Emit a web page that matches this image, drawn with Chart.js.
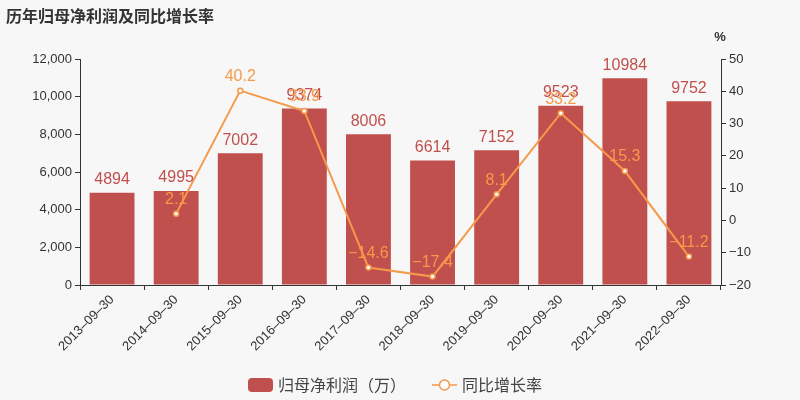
<!DOCTYPE html>
<html>
<head>
<meta charset="utf-8">
<style>
body { margin: 0; background: #f7f7f7; }
#wrap { width: 800px; height: 400px; }
</style>
<script src="https://cdn.jsdelivr.net/npm/chart.js@4/dist/chart.umd.min.js"></script>
</head>
<body>
<div id="wrap"><canvas id="chart" width="800" height="400"></canvas></div>
<script>
// data
var dates = ['2013-09-30', '2014-09-30', '2015-09-30', '2016-09-30', '2017-09-30',
             '2018-09-30', '2019-09-30', '2020-09-30', '2021-09-30', '2022-09-30'];
var profit = [4894, 4995, 7002, 9374, 8006, 6614, 7152, 9523, 10984, 9752];
var growth = [null, 2.1, 40.2, 33.9, -14.6, -17.4, 8.1, 33.2, 15.3, -11.2];
var leftTicks = [0, 2000, 4000, 6000, 8000, 10000, 12000];
var rightTicks = [-20, -10, 0, 10, 20, 30, 40, 50];

var barColor = '#c0504d';
var lineColor = '#f5994a';
var txt = '#333';
var cjk = '"Noto Sans CJK SC", sans-serif';

function minus(s) { return String(s).replace(/-/g, '\u2212'); }

// value labels + title + legend
var extras = {
  id: 'extras',
  afterDatasetsDraw: function(chart) {
    var ctx = chart.ctx;
    ctx.save();
    ctx.font = '16px "Liberation Sans", Arial, sans-serif';
    ctx.textAlign = 'center';
    ctx.textBaseline = 'bottom';
    chart.getDatasetMeta(0).data.forEach(function(bar, i) {
      ctx.fillStyle = barColor;
      ctx.fillText(profit[i], bar.x, bar.y - 5);
    });
    chart.getDatasetMeta(1).data.forEach(function(pt, i) {
      if (growth[i] === null) return;
      ctx.fillStyle = lineColor;
      ctx.fillText(minus(growth[i]), pt.x, pt.y - 6);
    });
    ctx.restore();
  },
  afterDraw: function(chart) {
    var ctx = chart.ctx;
    ctx.save();
    ctx.fillStyle = txt;
    ctx.font = 'bold 16px ' + cjk;
    ctx.textBaseline = 'middle';
    ctx.textAlign = 'left';
    ctx.fillText('历年归母净利润及同比增长率', 6, 16);

    ctx.font = 'bold 13px "Liberation Sans", Arial, sans-serif';
    ctx.textAlign = 'center';
    ctx.fillText('%', 720, 37);

    // legend
    ctx.font = '16px ' + cjk;
    ctx.textAlign = 'left';
    var y = 385;
    ctx.fillStyle = barColor;
    ctx.beginPath();
    ctx.roundRect(248, y - 7, 25, 14, 4);
    ctx.fill();
    ctx.fillStyle = '#444';
    ctx.fillText('归母净利润（万）', 278, y);
    ctx.strokeStyle = lineColor;
    ctx.lineWidth = 1.5;
    ctx.beginPath();
    ctx.moveTo(432, y); ctx.lineTo(457, y);
    ctx.stroke();
    ctx.beginPath();
    ctx.arc(444.5, y, 5, 0, Math.PI * 2);
    ctx.fillStyle = '#fff';
    ctx.fill();
    ctx.stroke();
    ctx.fillStyle = '#444';
    ctx.fillText('同比增长率', 462, y);
    ctx.restore();
  }
};

var ctx = document.getElementById('chart');
new Chart(ctx, {
  type: 'bar',
  data: {
    labels: dates,
    datasets: [
      {
        type: 'bar',
        label: '归母净利润（万）',
        data: profit,
        backgroundColor: barColor,
        yAxisID: 'y',
        categoryPercentage: 0.7,
        barPercentage: 1,
        order: 2
      },
      {
        type: 'line',
        label: '同比增长率',
        data: growth,
        borderColor: lineColor,
        borderWidth: 2,
        pointRadius: 2.5,
        pointBackgroundColor: '#fff',
        pointBorderColor: lineColor,
        pointBorderWidth: 1.5,
        yAxisID: 'y1',
        spanGaps: false,
        order: 1
      }
    ]
  },
  options: {
    responsive: false,
    animation: false,
    layout: { padding: { top: 59, left: 0, right: 0, bottom: 0 } },
    plugins: { legend: { display: false }, tooltip: { enabled: false } },
    scales: {
      x: {
        grid: { display: true, drawOnChartArea: false, drawTicks: true, tickLength: 5, color: txt },
        border: { display: true, color: txt },
        ticks: {
          color: txt, font: { size: 13, family: '"Liberation Sans", Arial, sans-serif' },
          minRotation: 45, maxRotation: 45, padding: 2,
          callback: function(v, i) { return dates[i].replace(/-/g, '\u2013'); }
        },
        afterFit: function(s) { s.height = 115; }
      },
      y: {
        position: 'left',
        min: 0, max: 12000,
        afterBuildTicks: function(s) { s.ticks = leftTicks.map(function(v) { return { value: v }; }); },
        grid: { drawOnChartArea: false, drawTicks: true, tickLength: 5, color: txt },
        border: { display: true, color: txt },
        ticks: {
          color: txt, font: { size: 13, family: '"Liberation Sans", Arial, sans-serif' }, padding: 3,
          callback: function(v) { return v.toLocaleString('en-US'); }
        },
        afterFit: function(s) { s.width = 80; }
      },
      y1: {
        position: 'right',
        min: -20, max: 50,
        afterBuildTicks: function(s) { s.ticks = rightTicks.map(function(v) { return { value: v }; }); },
        grid: { drawOnChartArea: false, drawTicks: true, tickLength: 5, color: txt },
        border: { display: true, color: txt },
        ticks: {
          color: txt, font: { size: 13, family: '"Liberation Sans", Arial, sans-serif' }, padding: 3,
          callback: function(v) { return minus(v); }
        },
        afterFit: function(s) { s.width = 79; }
      }
    }
  },
  plugins: [extras]
});
</script>
</body>
</html>
